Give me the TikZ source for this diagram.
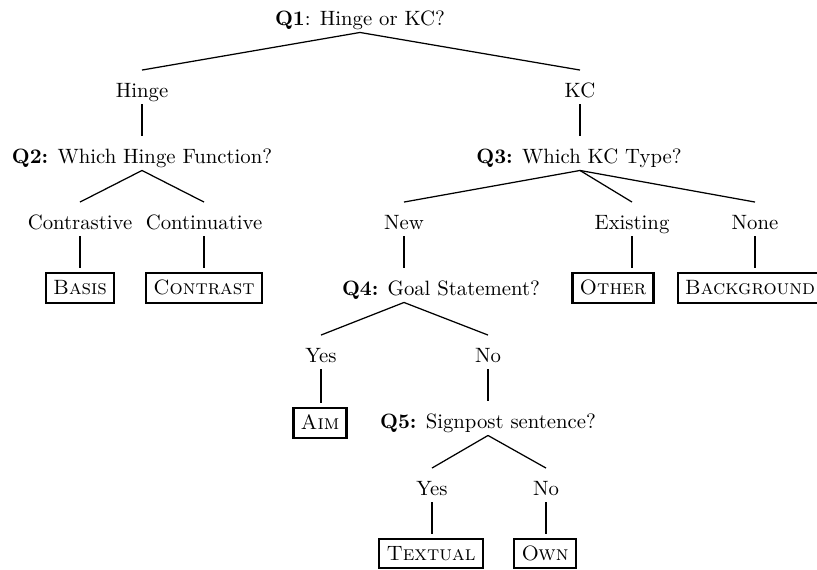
\documentclass[tikz,border=0pt]{standalone}
\begin{document}
\begin{tikzpicture}[x=0.48225pt, y=-0.48225pt,
  lbl/.style={anchor=base, inner sep=0pt, outer sep=0pt, text height=13pt, text depth=3.6pt},
  leaf/.style={draw, line width=1.1pt, inner sep=3.5pt, outer sep=2.4pt, text height=6.8pt, text depth=0.5pt, font=\scshape},
  branch/.style={line width=0.6pt},
  stem/.style={line width=1pt},
  boldstem/.style={line width=1.4pt}]
\useasboundingbox (0,0) rectangle (817,569);

% question and answer labels (placed on their baselines)
\node[lbl] (q1)    at (360,25)  {\textbf{Q1}: Hinge or KC?};
\node[lbl] (hinge) at (142,97)  {Hinge};
\node[lbl] (kc)    at (580,97)  {KC};
\node[lbl] (q2)    at (142,163) {\textbf{Q2:} Which Hinge Function?};
\node[lbl] (q3)    at (579,163) {\textbf{Q3:} Which KC Type?};
\node[lbl] (contr) at (80,229)  {Contrastive};
\node[lbl] (cont)  at (204,229) {Continuative};
\node[lbl] (new)   at (404,229) {New};
\node[lbl] (exist) at (632,229) {Existing};
\node[lbl] (none)  at (755,229) {None};
\node[lbl] (q4)    at (441,295) {\textbf{Q4:} Goal Statement?};
\node[lbl] (yesa)  at (321,362) {Yes};
\node[lbl] (noa)   at (488,362) {No};
\node[lbl] (q5)    at (488,428) {\textbf{Q5:} Signpost sentence?};
\node[lbl] (yesb)  at (432,495) {Yes};
\node[lbl] (nob)   at (546,495) {No};

% categories
\node[leaf] (basis)      at (80,288)    {Basis};
\node[leaf] (contrast)   at (204,288)   {Contrast};
\node[leaf] (other)      at (613,288)   {Other};
\node[leaf] (background) at (750,288)   {Background};
\node[leaf] (aim)        at (320,423)   {Aim};
\node[leaf] (textual)    at (431,553.5) {Textual};
\node[leaf] (own)        at (545,553.5) {Own};

% Q1 branches
\draw[branch] (q1.south) -- (hinge.north);
\draw[branch] (q1.south) -- (kc.north);
\draw[stem] (hinge.south) -- (hinge.south |- q2.north);
\draw[stem] (kc.south) -- (kc.south |- q3.north);

% Q2 branches
\draw[branch] (q2.south) -- (contr.north);
\draw[branch] (q2.south) -- (cont.north);
\draw[boldstem] (contr.south) -- (contr.south |- basis.north);
\draw[stem] (cont.south) -- (cont.south |- contrast.north);

% Q3 branches
\draw[branch] (q3.south -| kc) -- (new.north);
\draw[branch] (q3.south -| kc) -- (exist.north);
\draw[branch] (q3.south -| kc) -- (none.north);
\draw[stem] (new.south) -- (new.south |- q4.north);
\draw[stem] (exist.south) -- (exist.south |- other.north);
\draw[stem] (none.south) -- (none.south |- background.north);

% Q4 branches
\draw[branch] (q4.south -| new) -- (yesa.north);
\draw[branch] (q4.south -| new) -- (noa.north);
\draw[stem] (yesa.south) -- (yesa.south |- aim.north);
\draw[stem] (noa.south) -- (noa.south |- q5.north);

% Q5 branches
\draw[branch] (q5.south) -- (yesb.north);
\draw[branch] (q5.south) -- (nob.north);
\draw[boldstem] (yesb.south) -- (yesb.south |- textual.north);
\draw[stem] (nob.south) -- (nob.south |- own.north);
\end{tikzpicture}
\end{document}
